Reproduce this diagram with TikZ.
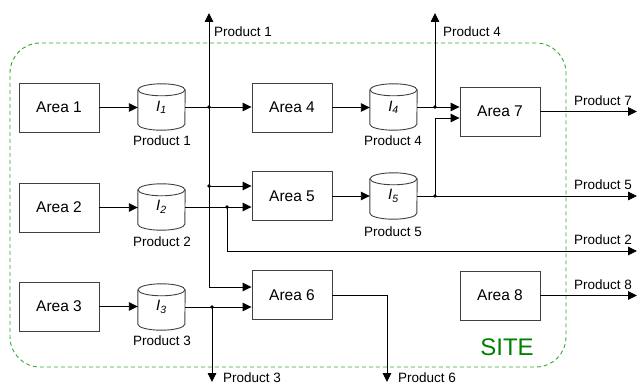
\documentclass[tikz,border=0pt]{standalone}
\usepackage{fontspec}
\setmainfont{Liberation Sans}
\usetikzlibrary{arrows.meta,calc}
\definecolor{boxgray}{HTML}{404040}
\definecolor{sitegreen}{HTML}{33A833}
\definecolor{sitetext}{HTML}{008000}
\newcommand\drawcyl[1]{%
 \draw[cylline] ([yshift=-6pt]#1.north west) -- ([yshift=6pt]#1.south west) arc[start angle=180,end angle=360,x radius=23.5pt,y radius=6pt] -- ([yshift=-6pt]#1.north east);
 \draw[cylline] ([yshift=-6pt]#1.north) ellipse[x radius=23.5pt,y radius=6pt];}
\newcommand\invlab[1]{\raisebox{-3pt}{\textit{I}\textsubscript{\textit{#1}}}}
\begin{document}
\begin{tikzpicture}[x=1pt,y=-1pt,
  area/.style={draw=boxgray,line width=0.9pt,minimum width=80pt,minimum height=49pt,inner sep=0pt,font=\fontsize{15.5}{18}\selectfont},
  cyl/.style={minimum width=47pt,minimum height=46pt,inner sep=0pt,font=\fontsize{15}{18}\selectfont},
  cylline/.style={draw=boxgray,line width=0.9pt},
  arr/.style={-{Triangle[length=9pt,width=8.5pt]},line width=0.9pt},
  plab/.style={inner sep=0pt,font=\fontsize{13.5}{16}\selectfont},
  jdot/.style={circle,fill=black,inner sep=0pt,minimum size=3.8pt},
  site/.style={draw=sitegreen,line width=0.9pt,dash pattern=on 4pt off 3pt,rounded corners=30pt,minimum width=556pt,minimum height=324pt,inner sep=0pt}]
\useasboundingbox (0,0) rectangle (637,385);
% site
\node[site] (site) at (288,205) {};
\node[text=sitetext,font=\fontsize{24}{28}\selectfont,inner sep=0pt] (sitelab) at (507,347) {SITE};
% areas
\node[area] (A1) at (59,107.5) {Area 1};
\node[area] (A2) at (59,207.5) {Area 2};
\node[area] (A3) at (59,306.5) {Area 3};
\node[area] (A4) at (292,107.5) {Area 4};
\node[area] (A5) at (292,196) {Area 5};
\node[area] (A6) at (292,295) {Area 6};
\node[area] (A7) at (500,111.5) {Area 7};
\node[area] (A8) at (500,295.5) {Area 8};
% inventories
\node[cyl] (I1) at (161.5,107) {\invlab{1}}; \drawcyl{I1}
\node[cyl] (I2) at (161.5,207) {\invlab{2}}; \drawcyl{I2}
\node[cyl] (I3) at (161.5,307) {\invlab{3}}; \drawcyl{I3}
\node[cyl] (I4) at (393.5,107) {\invlab{4}}; \drawcyl{I4}
\node[cyl] (I5) at (393.5,196) {\invlab{5}}; \drawcyl{I5}
\node[plab,anchor=base] (l1) at (162,146) {Product 1};
\node[plab,anchor=base] (l2) at (162,246) {Product 2};
\node[plab,anchor=base] (l3) at (162,345) {Product 3};
\node[plab,anchor=base] (l4) at (393,146) {Product 4};
\node[plab,anchor=base] (l5) at (393,236) {Product 5};
% coordinates
\coordinate (top1) at (209,13);
\coordinate (c1a) at (209,186);
\coordinate (c1b) at (209,287);
\coordinate (d2) at (227,207);
\coordinate (out2) at (637,251);
\coordinate (out3) at (212,382);
\coordinate (top4) at (435,13);
\coordinate (out5) at (637,196);
\coordinate (out6) at (387,382);
\coordinate (out7) at (637,111.5);
\coordinate (out8) at (637,295.5);
% connectors
\draw[arr] (A1.east) -- (A1.east -| I1.west);
\draw[arr] (A2.east) -- (A2.east -| I2.west);
\draw[arr] (A3.east) -- (A3.east -| I3.west);
\draw[arr] (I1.east) -- (I1.east -| A4.west);
\draw[arr] (c1b) -- (top1);
\draw[arr] (c1a) -- (c1a -| A5.west);
\draw[arr] (c1b) -- (c1b -| A6.west);
\draw[arr] (I2.east) -- (I2.east -| A5.west);
\draw[arr] (d2) |- (out2);
\draw[arr] (I3.east) -- (I3.east -| A6.west);
\draw[arr] (I3.east -| out3) -- (out3);
\draw[arr] (A4.east) -- (A4.east -| I4.west);
\draw[arr] (I4.east) -- (I4.east -| A7.west);
\draw[arr] (I4.east -| top4) -- (top4);
\draw[arr] (A5.east) -- (A5.east -| I5.west);
\draw[arr] (I5.east) -- (out5);
\draw[arr] (I5.east -| top4) |- ([yshift=-6.5pt]A7.west);
\draw[arr] (A7.east) -- (out7);
\draw[arr] (A6.east) -| (out6);
\draw[arr] (A8.east) -- (out8);
% dots
\node[jdot] (j1) at (I1.east -| top1) {};
\node[jdot] (j2) at (c1a) {};
\node[jdot] (j3) at (d2) {};
\node[jdot] (j4) at (I3.east -| out3) {};
\node[jdot] (j5) at (I4.east -| top4) {};
\node[jdot] (j6) at (I5.east -| top4) {};
% output labels
\node[plab,anchor=base west] (p1) at (214,37) {Product 1};
\node[plab,anchor=base west] (p4) at (443,37) {Product 4};
\node[plab,anchor=base west] (p7) at (574,105.5) {Product 7};
\node[plab,anchor=base west] (p5) at (574,189.5) {Product 5};
\node[plab,anchor=base west] (p2) at (574,244.5) {Product 2};
\node[plab,anchor=base west] (p8) at (574,289) {Product 8};
\node[plab,anchor=base west] (p3) at (223,382) {Product 3};
\node[plab,anchor=base west] (p6) at (398,382) {Product 6};
\end{tikzpicture}
\end{document}
